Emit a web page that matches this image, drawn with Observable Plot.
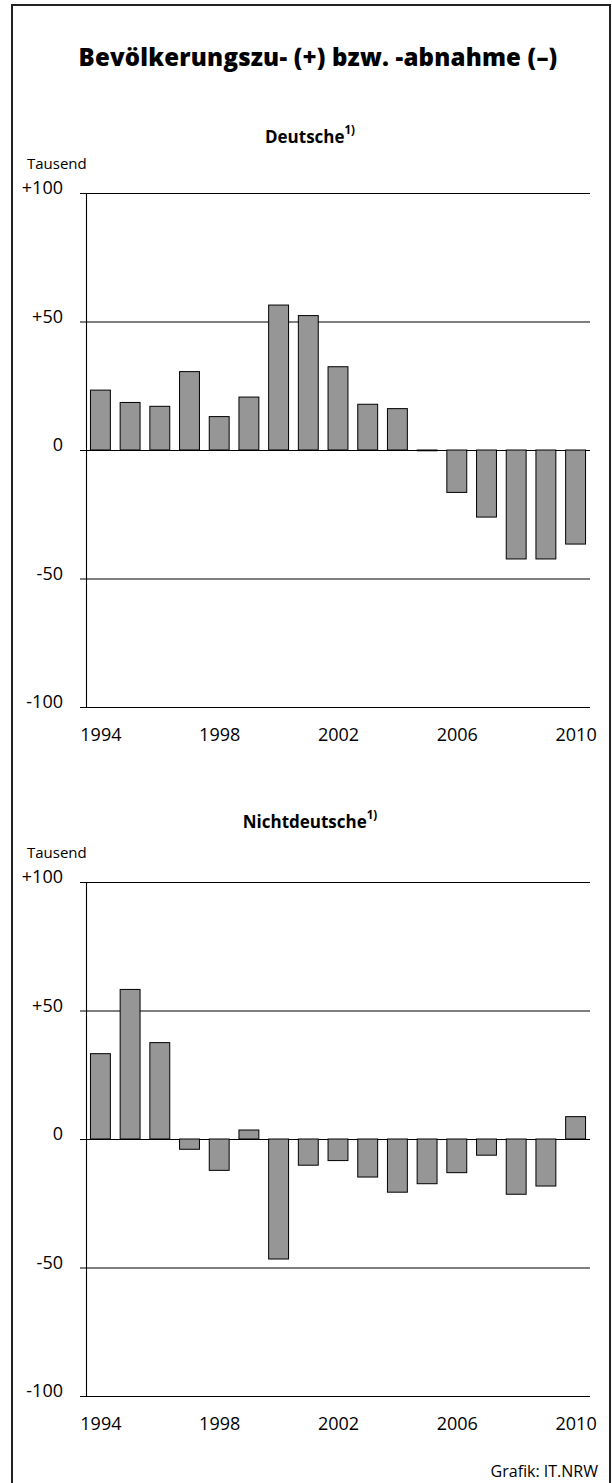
<!DOCTYPE html>
<html>
<head>
<meta charset="utf-8">
<script src="https://cdn.jsdelivr.net/npm/d3@7"></script>
<script src="https://cdn.jsdelivr.net/npm/@observablehq/plot@0.6"></script>
<style>
  html, body { margin: 0; padding: 0; background: #fff; }
  body { width: 612px; height: 1483px; overflow: hidden; font-family: "Open Sans", sans-serif; color: #000; }
  #page { position: relative; width: 612px; height: 1483px; }
  .abs { position: absolute; white-space: nowrap; line-height: 1; }
  #border { position: absolute; left: 11px; top: 4px; width: 600px; height: 1520px; box-sizing: border-box; border: 2px solid #222; }
  #title { left: 0; width: 636px; text-align: center; font-weight: 800; font-size: 24px; letter-spacing: 0.2px; top: 45px; }
  .sub { left: 0; width: 620px; text-align: center; font-weight: 700; font-size: 17px; }
  .sub sup { font-size: 11.5px; position: relative; top: -2px; }
  .unit { left: 27px; font-size: 15px; }
  #caption { right: 14px; font-size: 16px; top: 1463px; }
  .chart { position: absolute; left: 0; }
</style>
</head>
<body>
<div id="page">
  <div id="border"></div>
  <div id="title" class="abs">Bevölkerungszu- (+) bzw. -abnahme (–)</div>
  <div id="sub1" class="abs sub" style="top:126px">Deutsche<sup>1)</sup></div>
  <div class="abs unit" style="top:156px">Tausend</div>
  <div id="chart1" class="chart" style="top:150px"></div>
  <div id="sub2" class="abs sub" style="top:811px">Nichtdeutsche<sup>1)</sup></div>
  <div class="abs unit" style="top:845px">Tausend</div>
  <div id="chart2" class="chart" style="top:839px"></div>
  <div id="caption" class="abs">Grafik: IT.NRW</div>
</div>
<script>
const years = [1994, 1995, 1996, 1997, 1998, 1999, 2000, 2001, 2002, 2003, 2004, 2005, 2006, 2007, 2008, 2009, 2010];
const deutsche = [23.3, 18.5, 17.0, 30.5, 13.0, 20.6, 56.4, 52.3, 32.4, 17.8, 16.1, -0.3, -16.5, -26.1, -42.4, -42.4, -36.6];
const nichtdeutsche = [33.2, 58.2, 37.5, -4.0, -12.2, 3.5, -46.7, -10.2, -8.4, -14.8, -20.7, -17.4, -13.1, -6.3, -21.5, -18.3, 8.7];
const yTicks = [-100, -50, 0, 50, 100];
const xTicks = [1994, 1998, 2002, 2006, 2010];

const fmtY = d => d > 0 ? "+" + d : String(d);

function makeChart(values) {
  const data = years.map((year, i) => ({year, value: values[i]}));
  return Plot.plot({
    width: 612,
    height: 610,
    marginTop: 43,
    marginBottom: 53,
    marginLeft: 86,
    marginRight: 22,
    style: {fontFamily: "Open Sans, sans-serif", fontSize: "18px", color: "#000", background: "transparent", overflow: "visible"},
    x: {type: "band", domain: years, paddingInner: 0.33, paddingOuter: 0.15, round: false},
    y: {domain: [-100, 100]},
    marks: [
      Plot.ruleY(yTicks, {stroke: "#000", strokeWidth: 1.1, insetLeft: -6}),
      Plot.frame({anchor: "left", stroke: "#000", strokeWidth: 1.1}),
      Plot.barY(data, {x: "year", y: "value", fill: "#969696", stroke: "#000", strokeWidth: 1}),
      Plot.axisY({ticks: yTicks, tickFormat: fmtY, tickSize: 0, tickPadding: 23.5, dy: -5, fontSize: 18, label: null}),
      Plot.axisX({ticks: xTicks, tickFormat: d => String(d), tickSize: 0, tickPadding: 21, fontSize: 18, label: null})
    ]
  });
}

document.getElementById("chart1").appendChild(makeChart(deutsche));
document.getElementById("chart2").appendChild(makeChart(nichtdeutsche));
</script>
</body>
</html>
